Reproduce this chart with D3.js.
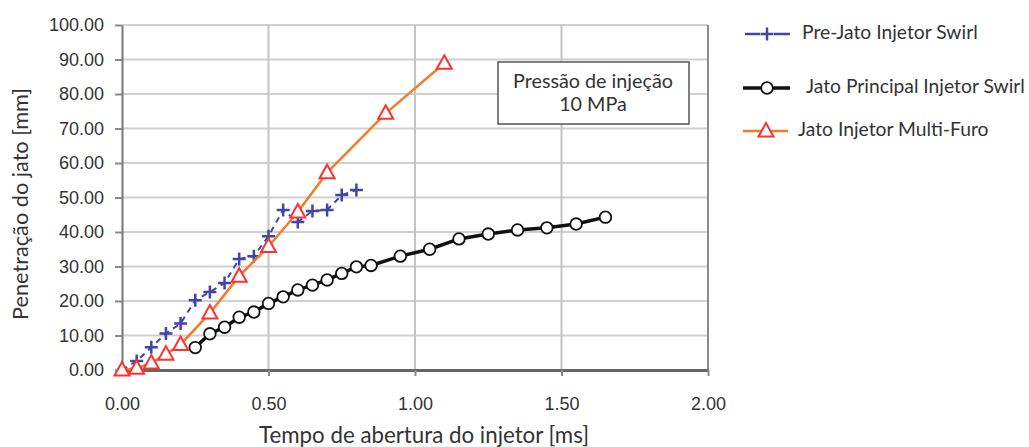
<!DOCTYPE html>
<html><head><meta charset="utf-8">
<script src="https://cdn.jsdelivr.net/npm/d3@7/dist/d3.min.js"></script>
<style>body{margin:0;background:#fff}svg{display:block}</style>
</head><body>
<svg id="chart" width="1029" height="447"></svg>
<script>
// ---- data ----
const preX = [0, 0.05, 0.10, 0.15, 0.20, 0.25, 0.30, 0.35, 0.40, 0.45, 0.50, 0.55, 0.60, 0.65, 0.70, 0.75, 0.80];
const preY = [0, 2.6, 6.6, 10.6, 13.5, 20.2, 22.6, 25.2, 32.2, 33.0, 38.8, 46.4, 42.9, 46.1, 46.4, 50.7, 52.2];
const mainX = [0.25, 0.30, 0.35, 0.40, 0.45, 0.50, 0.55, 0.60, 0.65, 0.70, 0.75, 0.80, 0.85, 0.95, 1.05, 1.15, 1.25, 1.35, 1.45, 1.55, 1.65];
const mainY = [6.5, 10.5, 12.4, 15.3, 16.8, 19.3, 21.2, 23.2, 24.6, 26.1, 28.0, 29.9, 30.3, 33.0, 35.0, 38.0, 39.4, 40.6, 41.2, 42.3, 44.3];
const multiX = [0, 0.05, 0.10, 0.15, 0.20, 0.30, 0.40, 0.50, 0.60, 0.70, 0.90, 1.10];
const multiY = [0, 0.5, 2.0, 4.6, 7.4, 16.5, 27.2, 35.8, 45.8, 57.2, 74.4, 88.9];
const xTicks = [0, 0.5, 1.0, 1.5, 2.0];
const yTicks = [0, 10, 20, 30, 40, 50, 60, 70, 80, 90, 100];
const seriesNames = ["Pre-Jato Injetor Swirl", "Jato Principal Injetor Swirl", "Jato Injetor Multi-Furo"];
const xTitle = "Tempo de abertura do injetor [ms]";
const yTitle = "Penetração do jato [mm]";
const noteLines = ["Pressão de injeção", "10 MPa"];

// ---- styles ----
const BLUE = "#4343a8", BLACK = "#111", ORANGE = "#f07d2a", RED = "#ff3030";
const TXT = "#333";
const CAL = "Lato, 'Open Sans', sans-serif";
const ARI = "'Liberation Sans', Arial, sans-serif";

const svg = d3.select("#chart");
const x = d3.scaleLinear().domain([0, 2]).range([122, 708]);
const y = d3.scaleLinear().domain([0, 100]).range([370, 25]);

function fit(sel, target) {
  const base = parseFloat(sel.attr("font-size"));
  const w = sel.node().getComputedTextLength();
  sel.attr("font-size", (base * target / w).toFixed(2));
}

// gridlines
svg.append("g").selectAll("line").data(yTicks.filter(d => d > 0)).join("line")
  .attr("x1", x(0)).attr("x2", x(2)).attr("y1", d => y(d)).attr("y2", d => y(d))
  .attr("stroke", "#cfcfcf").attr("stroke-width", 2);
svg.append("g").selectAll("line").data(xTicks.filter(d => d > 0 && d < 2)).join("line")
  .attr("x1", d => x(d)).attr("x2", d => x(d)).attr("y1", y(0)).attr("y2", y(100))
  .attr("stroke", "#c4c4c4").attr("stroke-width", 2);
// right border
svg.append("line").attr("x1", x(2)).attr("x2", x(2)).attr("y1", y(0)).attr("y2", y(100))
  .attr("stroke", "#8a8a8a").attr("stroke-width", 2);

// axes
const xAxis = d3.axisBottom(x).tickValues(xTicks).tickFormat(d3.format(".2f")).tickSizeInner(6).tickSizeOuter(0).tickPadding(21);
const gx = svg.append("g").attr("transform", `translate(0,${y(0)})`).call(xAxis);
gx.select(".domain").attr("stroke", "#666").attr("stroke-width", 3);
gx.selectAll(".tick line").attr("stroke", "#8a8a8a").attr("stroke-width", 2);
gx.selectAll(".tick text").attr("font-family", ARI).attr("font-size", 18).attr("fill", TXT);

const yAxis = d3.axisLeft(y).tickValues(yTicks).tickFormat(d3.format(".2f")).tickSizeInner(7).tickSizeOuter(0).tickPadding(11);
const gy = svg.append("g").attr("transform", `translate(${x(0)},0)`).call(yAxis);
gy.select(".domain").attr("stroke", "#777").attr("stroke-width", 2);
gy.selectAll(".tick line").attr("stroke", "#8a8a8a").attr("stroke-width", 2);
gy.selectAll(".tick text").attr("font-family", ARI).attr("font-size", 18).attr("fill", TXT);

// titles
const xt = svg.append("text").attr("x", 424).attr("y", 443).attr("text-anchor", "middle")
  .attr("font-family", CAL).attr("font-size", 19).attr("fill", TXT).text(xTitle);
fit(xt, 330);
const yt = svg.append("text").attr("transform", "translate(28,204) rotate(-90)").attr("text-anchor", "middle")
  .attr("font-family", CAL).attr("font-size", 19).attr("fill", TXT).text(yTitle);
fit(yt, 232);

// annotation box
svg.append("rect").attr("x", 498).attr("y", 62).attr("width", 191).attr("height", 62)
  .attr("fill", "#fff").attr("stroke", "#555").attr("stroke-width", 1.5);
const n1 = svg.append("text").attr("x", 593).attr("y", 88).attr("text-anchor", "middle")
  .attr("font-family", CAL).attr("font-size", 17).attr("fill", TXT).text(noteLines[0]);
fit(n1, 160);
svg.append("text").attr("x", 593).attr("y", 111).attr("text-anchor", "middle")
  .attr("font-family", CAL).attr("font-size", n1.attr("font-size")).attr("fill", TXT).text(noteLines[1]);

// marker helpers
function plus(g, cx, cy, col) {
  g.append("path").attr("d", `M${cx - 6.5},${cy}H${cx + 6.5}M${cx},${cy - 6.5}V${cy + 6.5}`)
    .attr("stroke", col).attr("stroke-width", 2.5).attr("fill", "none");
}
function circ(g, cx, cy) {
  g.append("circle").attr("cx", cx).attr("cy", cy).attr("r", 5.8)
    .attr("fill", "#fff").attr("stroke", BLACK).attr("stroke-width", 1.8);
}
function tri(g, cx, cy) {
  g.append("path").attr("d", `M${cx},${cy - 8}L${cx + 7.5},${cy + 5.5}L${cx - 7.5},${cy + 5.5}Z`)
    .attr("fill", "#fff").attr("stroke", RED).attr("stroke-width", 2);
}

const line = d3.line().x(d => x(d[0])).y(d => y(d[1]));
const pre = preX.map((v, i) => [v, preY[i]]);
const main = mainX.map((v, i) => [v, mainY[i]]);
const multi = multiX.map((v, i) => [v, multiY[i]]);

// series 1
const s1 = svg.append("g");
s1.append("path").attr("d", line(pre)).attr("fill", "none").attr("stroke", BLUE)
  .attr("stroke-width", 2).attr("stroke-dasharray", "6,5");
pre.slice(1).forEach(d => plus(s1, x(d[0]), y(d[1]), BLUE));
// series 2
const s2 = svg.append("g");
s2.append("path").attr("d", line(main)).attr("fill", "none").attr("stroke", BLACK).attr("stroke-width", 3.5);
main.forEach(d => circ(s2, x(d[0]), y(d[1])));
// series 3
const s3 = svg.append("g");
s3.append("path").attr("d", line(multi)).attr("fill", "none").attr("stroke", ORANGE).attr("stroke-width", 2.5);
multi.forEach(d => tri(s3, x(d[0]), y(d[1])));

// legend
const lg = svg.append("g");
const ly = [34, 88, 131];
const lx = [802, 806, 798];
lg.append("line").attr("x1", 745).attr("x2", 760).attr("y1", ly[0]).attr("y2", ly[0]).attr("stroke", BLUE).attr("stroke-width", 2.5);
lg.append("line").attr("x1", 774).attr("x2", 790).attr("y1", ly[0]).attr("y2", ly[0]).attr("stroke", BLUE).attr("stroke-width", 2.5);
plus(lg, 767, ly[0], BLUE);
lg.append("line").attr("x1", 743).attr("x2", 790).attr("y1", ly[1]).attr("y2", ly[1]).attr("stroke", BLACK).attr("stroke-width", 3.5);
circ(lg, 767, ly[1]);
lg.append("line").attr("x1", 743).attr("x2", 788).attr("y1", ly[2]).attr("y2", ly[2]).attr("stroke", ORANGE).attr("stroke-width", 2.5);
tri(lg, 766, ly[2]);
const lt = seriesNames.map((s, i) => lg.append("text").attr("x", lx[i]).attr("y", ly[i] + 5)
  .attr("font-family", CAL).attr("font-size", 16).attr("fill", TXT).text(s));
fit(lt[1], 219);
lt.forEach(t => t.attr("font-size", lt[1].attr("font-size")));
</script>
</body></html>
